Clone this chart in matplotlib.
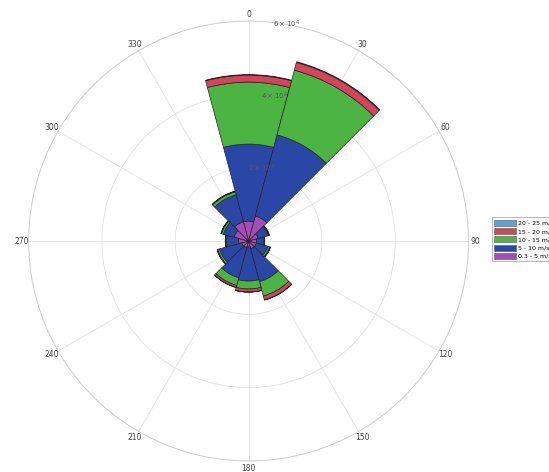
import numpy as np
import matplotlib
matplotlib.use("Agg")
import matplotlib.pyplot as plt
from matplotlib.patches import Patch

# wind direction sectors (deg, clockwise from north)
directions = [0, 30, 60, 90, 120, 150, 180, 210, 240, 270, 300, 330]

# counts per speed class and direction
speed_03_5 = [5450, 7090, 2730, 2180, 2180, 2180, 1640, 1910, 1910, 2730, 4090, 5450]
speed_5_10 = [21000, 22900, 2730, 1910, 3270, 9270, 9270, 8450, 6270, 3270, 3000, 7640]
speed_10_15 = [16900, 18270, 270, 270, 545, 4090, 2180, 2180, 545, 270, 545, 820]
speed_15_20 = [1910, 2180, 140, 50, 140, 1090, 820, 545, 140, 80, 140, 140]
speed_20_25 = [150, 200, 20, 10, 20, 60, 40, 30, 10, 10, 10, 10]

classes = ["0.3 - 5 m/s", "5 - 10 m/s", "10 - 15 m/s", "15 - 20 m/s", "20 - 25 m/s"]
colors = ["#a34dba", "#2b47a6", "#4cb443", "#d8435c", "#55a6dc"]

r_ticks = [2e4, 4e4, 6e4]
r_labels = [r"$2\times10^4$", r"$4\times10^4$", r"$6\times10^4$"]

fig = plt.figure(figsize=(5.49, 4.72), dpi=100)
ax = fig.add_axes([0.052, 0.0233, 0.8015, 0.932], projection="polar")
ax.set_theta_zero_location("N")
ax.set_theta_direction(-1)

theta = np.deg2rad(directions)
width = np.deg2rad(30)
bottom = np.zeros(len(directions))
for vals, c in zip([speed_03_5, speed_5_10, speed_10_15, speed_15_20, speed_20_25], colors):
    vals = np.array(vals, dtype=float)
    ax.bar(theta, vals, width=width, bottom=bottom, color=c,
           edgecolor="#222222", linewidth=0.5, zorder=3)
    bottom += vals

rmax = 6e4
ax.set_ylim(0, rmax)
ax.set_yticks(r_ticks)
ax.set_yticklabels([])
ax.set_thetagrids(directions, [])
ax.grid(True, color="#e2e2e2", linewidth=0.6)
ax.spines["polar"].set_color("#d0d0d0")
ax.spines["polar"].set_linewidth(0.7)

# direction labels just outside the outer ring
for d in directions:
    ax.text(np.deg2rad(d), rmax * 1.032, str(d), ha="center", va="center",
            fontsize=5.5, color="#444444", clip_on=False)

# ring labels drawn above the bars
for r, lab in zip(r_ticks, r_labels):
    ax.text(np.deg2rad(10), r, lab, ha="center", va="center",
            fontsize=5, color="#555555", zorder=10)

handles = [Patch(facecolor=c, edgecolor="#555555", linewidth=0.4) for c in colors]
leg = fig.legend(handles[::-1], classes[::-1], loc="upper left",
                 bbox_to_anchor=(0.896, 0.54), fontsize=4.5, frameon=True,
                 handlelength=3.5, handleheight=1.1, labelspacing=0.35,
                 handletextpad=0.3, borderpad=0.4, borderaxespad=0, fancybox=False)
leg.get_frame().set_edgecolor("#999999")
leg.get_frame().set_linewidth(0.6)

fig.savefig("out.png", dpi=100)
